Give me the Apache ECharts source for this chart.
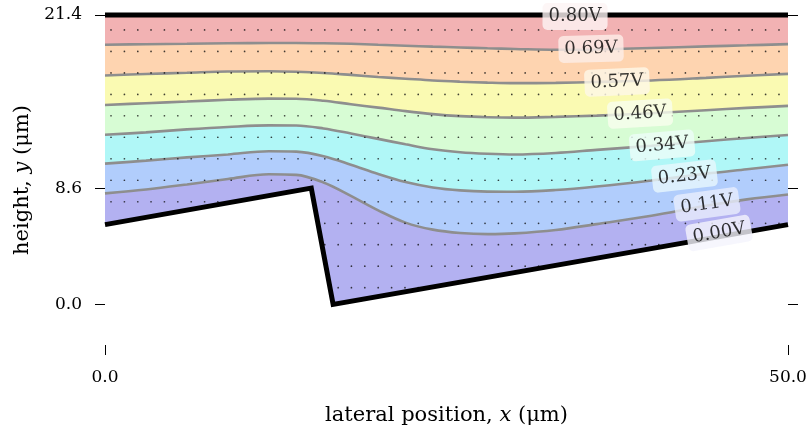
<!DOCTYPE html>
<html>
<head>
<meta charset="utf-8">
<script src="https://cdn.jsdelivr.net/npm/echarts@6/dist/echarts.min.js"></script>
<style>
  html, body { margin: 0; padding: 0; background: #ffffff; }
  #chart { width: 812px; height: 431px; }
</style>
</head>
<body>
<div id="chart"></div>
<script>
// Potential levels (V) of the drawn iso-lines, bottom to top
const levels = [0.00, 0.11, 0.23, 0.34, 0.46, 0.57, 0.69, 0.80];

// Shared lateral sample positions (µm) for the interior iso-lines
const contourX = [0, 3, 6, 9, 12, 14, 16, 18, 20, 22, 24, 26, 28, 30, 33, 36, 40, 44, 47, 50];

// Heights (µm) of each interior iso-line at contourX
const line011 = [8.21, 8.50, 8.87, 9.27, 9.62, 9.58, 9.01, 8.02, 6.96, 6.05, 5.53, 5.28, 5.20, 5.25, 5.50, 5.94, 6.56, 7.29, 7.77, 8.13];
const line023 = [10.41, 10.63, 10.87, 11.09, 11.33, 11.30, 10.96, 10.33, 9.64, 9.05, 8.65, 8.43, 8.34, 8.33, 8.46, 8.72, 9.16, 9.67, 10.00, 10.33];
const line034 = [12.55, 12.72, 12.94, 13.12, 13.24, 13.23, 13.01, 12.64, 12.24, 11.84, 11.47, 11.25, 11.14, 11.09, 11.20, 11.43, 11.73, 12.07, 12.31, 12.53];
const line046 = [14.75, 14.88, 15.00, 15.13, 15.22, 15.21, 15.06, 14.80, 14.55, 14.29, 14.07, 13.92, 13.84, 13.81, 13.87, 13.96, 14.14, 14.36, 14.53, 14.68];
const line057 = [16.93, 17.04, 17.13, 17.22, 17.24, 17.20, 17.11, 16.97, 16.82, 16.69, 16.56, 16.47, 16.40, 16.36, 16.38, 16.45, 16.56, 16.75, 16.91, 17.05];
const line069 = [19.20, 19.24, 19.27, 19.31, 19.33, 19.33, 19.31, 19.27, 19.20, 19.13, 19.06, 19.00, 18.94, 18.89, 18.83, 18.85, 18.96, 19.08, 19.16, 19.25];

// Electrodes: top plate (0.80 V) and grounded bottom profile (0.00 V)
const topX = [0, 50];
const topY = [21.4, 21.4];
const bottomX = [0, 15.1, 16.7, 50];
const bottomY = [5.9, 8.6, 0.0, 5.9];

// Mesh sample points
const meshX = [0.44, 1.42, 2.40, 3.37, 4.35, 5.33, 6.31, 7.29, 8.26, 9.24, 10.22, 11.20, 12.18, 13.15, 14.13, 15.11, 16.09,
  17.07, 18.04, 19.02, 20.00, 20.98, 21.96, 22.93, 23.91, 24.89, 25.87, 26.85, 27.82, 28.80, 29.78, 30.76, 31.74, 32.71,
  33.69, 34.67, 35.65, 36.63, 37.60, 38.58, 39.56, 40.54, 41.52, 42.49, 43.47, 44.45, 45.43, 46.41, 47.38, 48.36, 49.34];
const meshY = [20.30, 18.71, 17.12, 15.53, 13.95, 12.36, 10.77, 9.18, 7.59, 6.00, 4.42, 2.83, 1.24];

// Inline level labels: anchor (x, y) and tilt (deg), same order as levels
const labelX = [44.95, 44.07, 42.42, 40.78, 39.17, 37.48, 35.58, 34.41];
const labelY = [5.28, 7.40, 9.49, 11.76, 14.11, 16.45, 18.91, 21.29];
const labelTilt = [10, 8, 6.5, 5, 3.5, 2.5, 1.5, 0];

// Axis ticks
const xTicks = [0, 50];
const yTicks = [0, 8.6, 21.4];

// Band fills between consecutive levels, bottom to top
const bandColors = ['#B3B1F1', '#B1CDFC', '#B0F7F7', '#D7FCD4', '#FAFAB2', '#FED4B0', '#F2B2B3'];

const FONT = 'DejaVu Serif';
const INK = '#000000';

function pairs(xs, ys) { return xs.map((x, i) => [x, ys[i]]); }

function hexRgb(h) {
  return [parseInt(h.slice(1, 3), 16), parseInt(h.slice(3, 5), 16), parseInt(h.slice(5, 7), 16)];
}
function boxColor(below, above) {
  const a = hexRgb(below), b = hexRgb(above);
  const c = a.map((v, k) => Math.round(255 * 0.72 + 0.28 * (v + b[k]) / 2));
  return 'rgb(' + c.join(',') + ')';
}

// iso-lines from top to bottom, each filled with the band just below it
const isoLines = [
  { ys: topY, xs: topX, band: 6, line: false },
  { ys: line069, xs: contourX, band: 5, line: true },
  { ys: line057, xs: contourX, band: 4, line: true },
  { ys: line046, xs: contourX, band: 3, line: true },
  { ys: line034, xs: contourX, band: 2, line: true },
  { ys: line023, xs: contourX, band: 1, line: true },
  { ys: line011, xs: contourX, band: 0, line: true }
];

const series = [];
isoLines.forEach((c, i) => {
  series.push({
    type: 'line',
    data: pairs(c.xs, c.ys),
    smooth: 0.35,
    showSymbol: false,
    silent: true,
    z: 1 + i,
    lineStyle: c.line ? { color: '#8E8E8E', width: 2.6 } : { width: 0, opacity: 0 },
    areaStyle: { color: bandColors[c.band], opacity: 1, origin: 'start' }
  });
});

// mesh dots
const meshPts = [];
meshY.forEach(y => meshX.forEach(x => meshPts.push([x, y])));
series.push({
  type: 'scatter',
  data: meshPts,
  symbol: 'circle',
  symbolSize: 1.7,
  silent: true,
  z: 9,
  itemStyle: { color: '#111111' }
});

// blank out everything below the bottom electrode
series.push({
  type: 'line',
  data: pairs(bottomX, bottomY),
  showSymbol: false,
  silent: true,
  z: 10,
  lineStyle: { width: 0, opacity: 0 },
  areaStyle: { color: '#ffffff', opacity: 1, origin: 'start' }
});

// electrodes
[pairs(topX, topY), pairs(bottomX, bottomY)].forEach(d => {
  series.push({
    type: 'line',
    data: d,
    showSymbol: false,
    silent: true,
    clip: false,
    z: 11,
    lineStyle: { color: '#000000', width: 5, join: 'miter', cap: 'butt' }
  });
});

// level labels
series.push({
  type: 'scatter',
  symbolSize: 1,
  silent: true,
  z: 12,
  itemStyle: { color: 'rgba(0,0,0,0)' },
  data: levels.map((lv, i) => ({
    value: [labelX[i], labelY[i]],
    name: lv.toFixed(2) + 'V',
    label: {
      rotate: labelTilt[i],
      backgroundColor: boxColor(i > 0 ? bandColors[i - 1] : '#FFFFFF', i < bandColors.length ? bandColors[i] : '#FFFFFF')
    }
  })),
  label: {
    show: true,
    position: 'inside',
    formatter: '{b}',
    fontFamily: FONT,
    fontSize: 18,
    color: INK,
    padding: [5, 6, 4, 6],
    borderRadius: 5
  }
});

const tickStyle = { show: true, length: 10, lineStyle: { color: INK, width: 1 } };
const nameStyle = (size) => ({
  fontFamily: FONT, fontSize: size, color: INK,
  rich: { i: { fontFamily: FONT, fontSize: size, fontStyle: 'italic', color: INK } }
});

const option = {
  animation: false,
  backgroundColor: '#ffffff',
  grid: { left: 105, right: 24, top: 15, bottom: 83 },
  xAxis: {
    type: 'value',
    min: 0, max: 50, interval: 50,
    axisLine: { show: false, onZero: false },
    splitLine: { show: false },
    axisTick: Object.assign({ customValues: xTicks }, tickStyle),
    axisLabel: {
      customValues: xTicks,
      formatter: v => v.toFixed(1),
      margin: 24, fontFamily: FONT, fontSize: 17, color: INK
    },
    name: 'lateral position, {i|x} (μm)',
    nameLocation: 'middle',
    nameGap: 60,
    nameTextStyle: nameStyle(21)
  },
  yAxis: [
    {
      type: 'value',
      min: -3, max: 21.4,
      position: 'left',
      axisLine: { show: false, onZero: false },
      splitLine: { show: false },
      axisTick: Object.assign({ customValues: yTicks }, tickStyle),
      axisLabel: {
        customValues: yTicks,
        formatter: v => v.toFixed(1),
        margin: 23, fontFamily: FONT, fontSize: 17, color: INK
      },
      name: 'height, {i|y} (μm)',
      nameLocation: 'middle',
      nameGap: 72,
      nameTextStyle: nameStyle(21)
    },
    {
      type: 'value',
      min: -3, max: 21.4,
      position: 'right',
      axisLine: { show: false, onZero: false },
      splitLine: { show: false },
      axisTick: Object.assign({ customValues: yTicks }, tickStyle),
      axisLabel: { show: false }
    }
  ],
  series: series
};

const chart = echarts.init(document.getElementById('chart'), null, { renderer: 'canvas' });
chart.setOption(option);
</script>
</body>
</html>
